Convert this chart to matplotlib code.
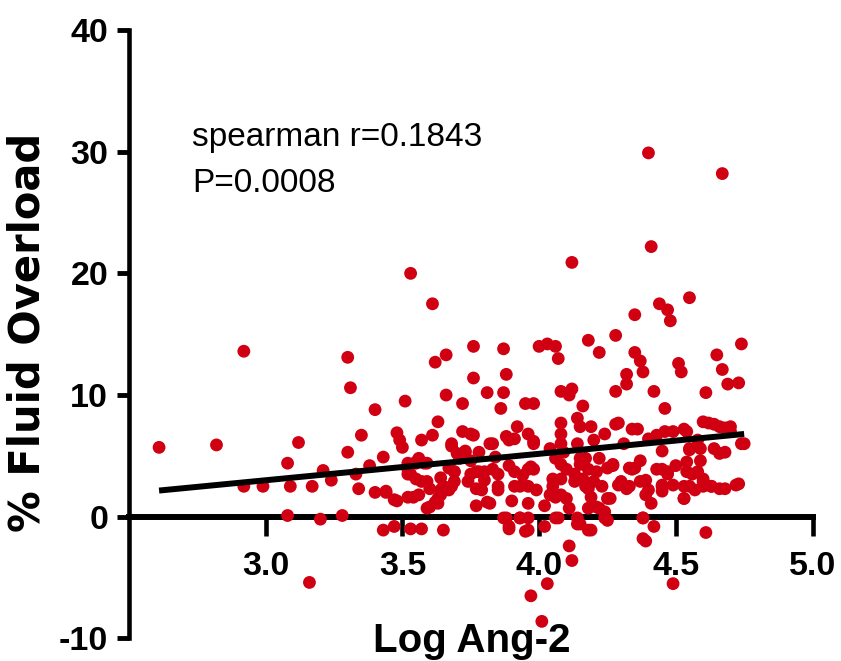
import matplotlib
matplotlib.use("Agg")
import matplotlib.pyplot as plt
import numpy as np

plt.rcParams['axes.unicode_minus'] = False

log_ang2 = [
    2.61, 2.82, 2.92, 2.92, 2.99, 3.08, 3.09, 3.08, 3.12, 3.17, 3.16, 3.20, 3.21, 3.24, 3.28,
    3.30, 3.31, 3.30, 3.33, 3.34, 3.35, 3.38, 3.40, 3.40, 3.43, 3.43, 3.44, 3.47, 3.48, 3.48,
    3.49, 3.50, 3.51, 3.52, 3.53, 3.53, 3.53, 3.54, 3.55, 3.56, 3.57, 3.57, 3.57, 3.59, 3.60,
    3.61, 3.61, 3.62, 3.63, 3.63, 3.64, 3.64, 3.65, 3.66, 3.66, 3.67, 3.68, 3.69, 3.69, 3.71,
    3.72, 3.72, 3.73, 3.74, 3.75, 3.76, 3.76, 3.76, 3.77, 3.77, 3.78, 3.79, 3.80, 3.81, 3.82,
    3.83, 3.83, 3.84, 3.85, 3.86, 3.87, 3.87, 3.88, 3.88, 3.89, 3.89, 3.89, 3.90, 3.91, 3.92,
    3.93, 3.94, 3.95, 3.96, 3.96, 3.97, 3.97, 3.98, 3.98, 3.99, 4.00, 4.01, 4.02, 4.02, 4.03,
    4.03, 4.04, 4.05, 4.06, 4.06, 4.07, 4.07, 4.08, 4.08, 4.09, 4.10, 4.10, 4.11, 4.11, 4.12,
    4.12, 4.12, 4.13, 4.14, 4.14, 4.15, 4.15, 4.16, 4.17, 4.18, 4.18, 4.19, 4.19, 4.20, 4.20,
    4.21, 4.22, 4.22, 4.23, 4.24, 4.25, 4.26, 4.27, 4.28, 4.28, 4.29, 4.30, 4.31, 4.32, 4.32,
    4.33, 4.34, 4.35, 4.35, 4.36, 4.37, 4.37, 4.38, 4.38, 4.39, 4.39, 4.40, 4.40, 4.41, 4.41,
    4.42, 4.42, 4.43, 4.43, 4.44, 4.45, 4.46, 4.47, 4.47, 4.48, 4.49, 4.49, 4.50, 4.51, 4.52,
    4.53, 4.54, 4.55, 4.55, 4.56, 4.57, 4.58, 4.59, 4.60, 4.61, 4.61, 4.62, 4.63, 4.64, 4.65,
    4.66, 4.67, 4.67, 4.68, 4.68, 4.69, 4.70, 4.70, 4.73, 4.73, 4.74, 4.75,
    # dense cluster
    4.08, 4.08, 4.06, 4.08, 4.05, 4.08, 4.04, 4.08, 4.06, 4.11, 4.14, 4.14, 4.13, 4.15, 4.16,
    4.17, 4.18, 4.21, 4.18, 4.22, 4.24, 4.18, 4.25, 4.27, 4.29, 4.32, 4.25, 4.33, 4.35, 4.37,
    4.39, 4.38, 4.38, 4.34, 4.28, 4.24, 4.19, 4.15, 4.40,
    4.46, 4.53, 4.60, 4.64, 4.68, 4.45, 4.55, 4.59, 4.66, 4.74, 4.54, 4.45, 4.47, 4.54, 4.58,
    4.60, 4.45, 4.49, 4.53, 4.55, 4.60, 4.63, 4.66, 4.72, 4.53, 4.45,
    3.68, 3.70, 3.73, 3.75, 3.67, 3.69, 3.65, 3.68, 3.75, 3.77, 3.78, 3.80, 3.81, 3.85, 3.85,
    3.82, 3.88, 3.91, 3.91, 3.93, 3.96, 3.96, 3.98, 3.96, 3.98, 3.87, 3.93, 3.96, 3.89, 3.95,
    3.64, 3.63,
    3.52, 3.55, 3.58, 3.52, 3.55, 3.59, 3.56, 3.59, 3.44, 3.47, 3.52, 3.62, 3.60,
]

fluid_overload = [
    5.7, 5.9, 13.6, 2.5, 2.5, 4.4, 2.5, 0.1, 6.1, 2.5, -5.4, -0.2, 3.8, 3.0, 0.1,
    13.1, 10.6, 5.3, 3.5, 2.3, 6.7, 4.2, 8.8, 2.0, -1.1, 4.9, 2.0, -0.8, 1.3, 6.9,
    6.3, 5.7, 9.5, 3.9, 3.5, -1.0, 20.0, 1.6, 4.4, 4.8, 2.9, -1.0, 6.3, 4.4, 0.8,
    6.7, 17.5, 12.7, 1.5, 7.8, 3.2, 2.2, -1.1, 10.0, 13.3, 2.2, 6.0, 2.9, 3.7, 4.8,
    7.0, 9.3, 5.3, 2.9, 4.6, 14.0, 11.4, 6.7, 0.9, 3.7, 5.3, 2.2, 3.0, 10.2, 1.1,
    6.0, 3.9, 4.9, 2.5, 8.9, 10.2, 13.8, 11.7, -0.1, 6.3, 4.2, -1.0, 1.3, 2.5, 7.4,
    -0.1, 3.4, 9.3, -1.1, 1.1, 4.1, -6.5, 9.3, 6.0, 2.2, 14.0, -8.6, 0.9, -0.8, 14.2,
    -5.5, 5.6, 2.5, 1.6, 14.0, 13.0, -0.1, 7.7, 10.3, 5.3, 3.9, 1.5, 10.0, -2.4, -3.6,
    20.9, 10.5, 2.9, 6.0, 8.1, -0.6, 4.8, 9.1, 2.5, 14.5, 3.9, -1.1, 1.6, 6.3, 2.9,
    0.8, 13.5, 4.8, 2.5, 0.4, -0.3, 1.5, 4.2, 14.9, 10.3, 7.7, 2.9, 6.0, 11.7, 10.9,
    2.5, 3.9, 16.6, 13.5, 7.2, 4.6, 12.8, 11.9, -0.1, 3.0, -2.0, 29.9, 2.2, 1.1, 22.2,
    10.3, -0.8, 3.9, 6.7, 17.5, 2.5, 8.9, 3.5, 17.0, 16.1, 7.0, -5.5, 4.2, 12.6, 11.9,
    1.5, 7.0, 5.6, 18.0, 3.5, 2.2, 6.3, 4.6, 2.9, -1.3, 10.2, 7.7, 2.5, 5.6, 13.3,
    7.4, 12.1, 28.2, 2.3, 5.3, 10.9, 7.0, 7.4, 11.0, 2.7, 14.2, 6.0,
    # dense cluster
    6.8, 6.0, 4.8, 4.3, 3.1, 3.1, 1.8, 1.8, -0.1, 0.7, -0.1, -0.6, 3.5, 4.3, 3.1,
    4.8, 2.3, 3.7, 0.7, 0.7, -0.1, -1.1, 4.0, 4.3, 2.6, 2.3, 1.5, 4.0, 4.0, 2.9,
    1.8, -0.1, -1.8, 7.2, 7.6, 6.8, 7.4, 7.4, 6.4,
    7.0, 7.2, 7.8, 7.6, 7.3, 5.4, 5.5, 5.6, 5.2, 6.0, 4.5, 3.9, 3.7, 3.7, 3.7,
    3.1, 2.6, 2.6, 2.5, 2.5, 2.5, 2.5, 2.3, 2.6, 1.5, 2.1,
    5.8, 5.2, 5.4, 6.8, 4.0, 3.7, 2.5, 2.5, 3.5, 2.3, 3.7, 3.7, 1.2, 3.5, 2.2,
    6.0, 6.6, 6.4, 3.7, 2.5, 2.5, 3.9, 3.9, 6.8, 6.2, -0.1, -0.1, -0.1, -0.8, -1.2,
    1.8, 1.1,
    4.4, 4.5, 4.4, 3.5, 3.1, 2.9, 1.8, 0.7, 2.1, 1.4, 1.6, 1.2, 2.3,
]

fit_x = [2.61, 4.75]
fit_y = [2.15, 6.8]

xticks = [3.0, 3.5, 4.0, 4.5, 5.0]
xtick_labels = ["3.0", "3.5", "4.0", "4.5", "5.0"]
yticks = [-10, 0, 10, 20, 30, 40]
ytick_labels = ["-10", "0", "10", "20", "30", "40"]

sans = ['Liberation Sans', 'DejaVu Sans']

fig = plt.figure(figsize=(8.41, 6.61), dpi=100)
ax = fig.add_axes([129/841, 1 - 638.4/661, (812.5 - 129)/841, (638.4 - 30)/661])

ax.scatter(log_ang2, fluid_overload, s=85, color='#D00012', edgecolors='none', zorder=3)
ax.plot(fit_x, fit_y, color='black', lw=4.3, solid_capstyle='butt', zorder=4)

ax.set_xlim(2.5, 5.0)
ax.set_ylim(-10, 40)

for s in ['top', 'right']:
    ax.spines[s].set_visible(False)
ax.spines['bottom'].set_position(('data', 0))
ax.spines['bottom'].set_linewidth(4.3)
ax.spines['left'].set_linewidth(3.3)
ax.spines['bottom'].set_zorder(2)

ax.set_xticks(xticks)
ax.set_xticklabels(xtick_labels)
ax.set_yticks(yticks)
ax.set_yticklabels(ytick_labels)
ax.tick_params(axis='x', direction='out', length=14, width=3.3, pad=11)
ax.tick_params(axis='y', direction='out', length=9, width=3.5, pad=6)
for lab in ax.get_xticklabels() + ax.get_yticklabels():
    lab.set_family(sans)
    lab.set_fontweight('bold')
    lab.set_fontsize(24.5)

ax.text(2.73, 30.5, "spearman r=0.1843", family=sans, fontsize=24, va='baseline', ha='left')
ax.text(2.73, 26.7, "P=0.0008", family=sans, fontsize=24, va='baseline', ha='left')

fig.text(472/841, 1 - 652/661, "Log Ang-2", family=sans, fontweight='bold', fontsize=29,
         ha='center', va='baseline')
fig.text(28/841, 1 - 332/661, "% Fluid Overload", family=['DejaVu Sans'], fontweight='bold',
         fontsize=30, rotation=90, ha='center', va='center')

fig.savefig("out.png", dpi=100)
